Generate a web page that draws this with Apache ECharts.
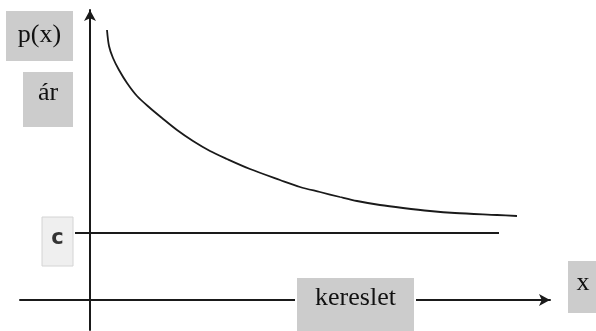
<!DOCTYPE html>
<html>
<head>
<meta charset="utf-8">
<script src="https://cdn.jsdelivr.net/npm/echarts@6/dist/echarts.min.js"></script>
<style>
  html, body { margin: 0; padding: 0; background: #fff; }
  #chart { width: 596px; height: 331px; }
</style>
</head>
<body>
<div id="chart"></div>
<script>
// Demand curve p(x): quantity (kereslet) vs. price (ár)
const demandX = [1.7, 1.9, 2.3, 2.9, 3.7, 4.7, 6.0, 7.2, 8.7, 10.3, 12.0, 13.7, 16.0, 19.0, 21.0, 23.0, 25.0, 26.7, 29.0, 31.3, 34.0, 36.5, 40.7, 42.7];
const demandP = [27.0, 25.4, 24.2, 23.0, 21.7, 20.4, 19.2, 18.2, 17.0, 15.9, 14.9, 14.1, 13.1, 12.0, 11.3, 10.8, 10.3, 9.9, 9.5, 9.2, 8.9, 8.7, 8.5, 8.4];

// Constant cost level c
const costLevel = 6.7;
const costRange = [-1.5, 40.9];

// Axis extents
const xRange = [-7, 46];
const yRange = [-3, 29];

const serif = '"Liberation Serif", "Times New Roman", serif';

const chart = echarts.init(document.getElementById('chart'), null, { renderer: 'canvas' });

// Grey caption box with centred text; optional white halo behind it
function labelBox(x, y, w, h, text, opts) {
  opts = opts || {};
  const children = [];
  if (opts.halo) {
    children.push({
      type: 'rect', z: 100,
      shape: { x: -opts.halo, y: 0, width: w + 2 * opts.halo, height: h },
      style: { fill: '#ffffff' }
    });
  }
  children.push({
    type: 'rect', z: 101,
    shape: { x: 0, y: 0, width: w, height: h },
    style: { fill: opts.fill || '#cccccc', stroke: opts.stroke || null, lineWidth: opts.stroke ? 1 : 0 }
  });
  children.push({
    type: 'text', z: 102,
    x: (opts.tx != null ? opts.tx : w / 2),
    y: (opts.ty != null ? opts.ty : h / 2),
    style: {
      text: text,
      font: opts.font || ('26px ' + serif),
      fill: opts.color || '#111',
      align: 'center',
      verticalAlign: 'middle'
    }
  });
  return { type: 'group', x: x, y: y, children: children };
}

const option = {
  animation: false,
  grid: { left: 20, right: 46, top: 10, bottom: 1, containLabel: false },
  xAxis: {
    type: 'value',
    min: xRange[0], max: xRange[1],
    axisLine: {
      onZero: true,
      lineStyle: { color: '#1a1a1a', width: 2 },
      symbol: ['none', 'arrow'],
      symbolSize: [9, 11]
    },
    axisTick: { show: false },
    axisLabel: { show: false },
    splitLine: { show: false }
  },
  yAxis: {
    type: 'value',
    min: yRange[0], max: yRange[1],
    axisLine: {
      onZero: true,
      lineStyle: { color: '#1a1a1a', width: 2 },
      symbol: ['none', 'arrow'],
      symbolSize: [9, 11]
    },
    axisTick: { show: false },
    axisLabel: { show: false },
    splitLine: { show: false }
  },
  series: [
    {
      name: 'p(x)',
      type: 'line',
      data: demandX.map((x, i) => [x, demandP[i]]),
      showSymbol: false,
      smooth: 0.3,
      lineStyle: { color: '#1a1a1a', width: 1.8 }
    },
    {
      name: 'c',
      type: 'line',
      data: [[costRange[0], costLevel], [costRange[1], costLevel]],
      showSymbol: false,
      lineStyle: { color: '#1a1a1a', width: 2 }
    }
  ],
  graphic: [
    labelBox(6, 11, 67, 50, 'p(x)', { ty: 24 }),
    labelBox(23, 72, 50, 55, 'ár', { ty: 21 }),
    labelBox(42, 217, 31, 49, 'c', {
      fill: '#efefef', stroke: '#d4d4d4',
      font: 'bold 21px "DejaVu Sans", sans-serif', color: '#333', ty: 22
    }),
    labelBox(297, 278, 117, 53, 'kereslet', { ty: 20, halo: 2 }),
    labelBox(568, 261, 30, 52, 'x', { ty: 22 })
  ]
};

chart.setOption(option);
</script>
</body>
</html>
